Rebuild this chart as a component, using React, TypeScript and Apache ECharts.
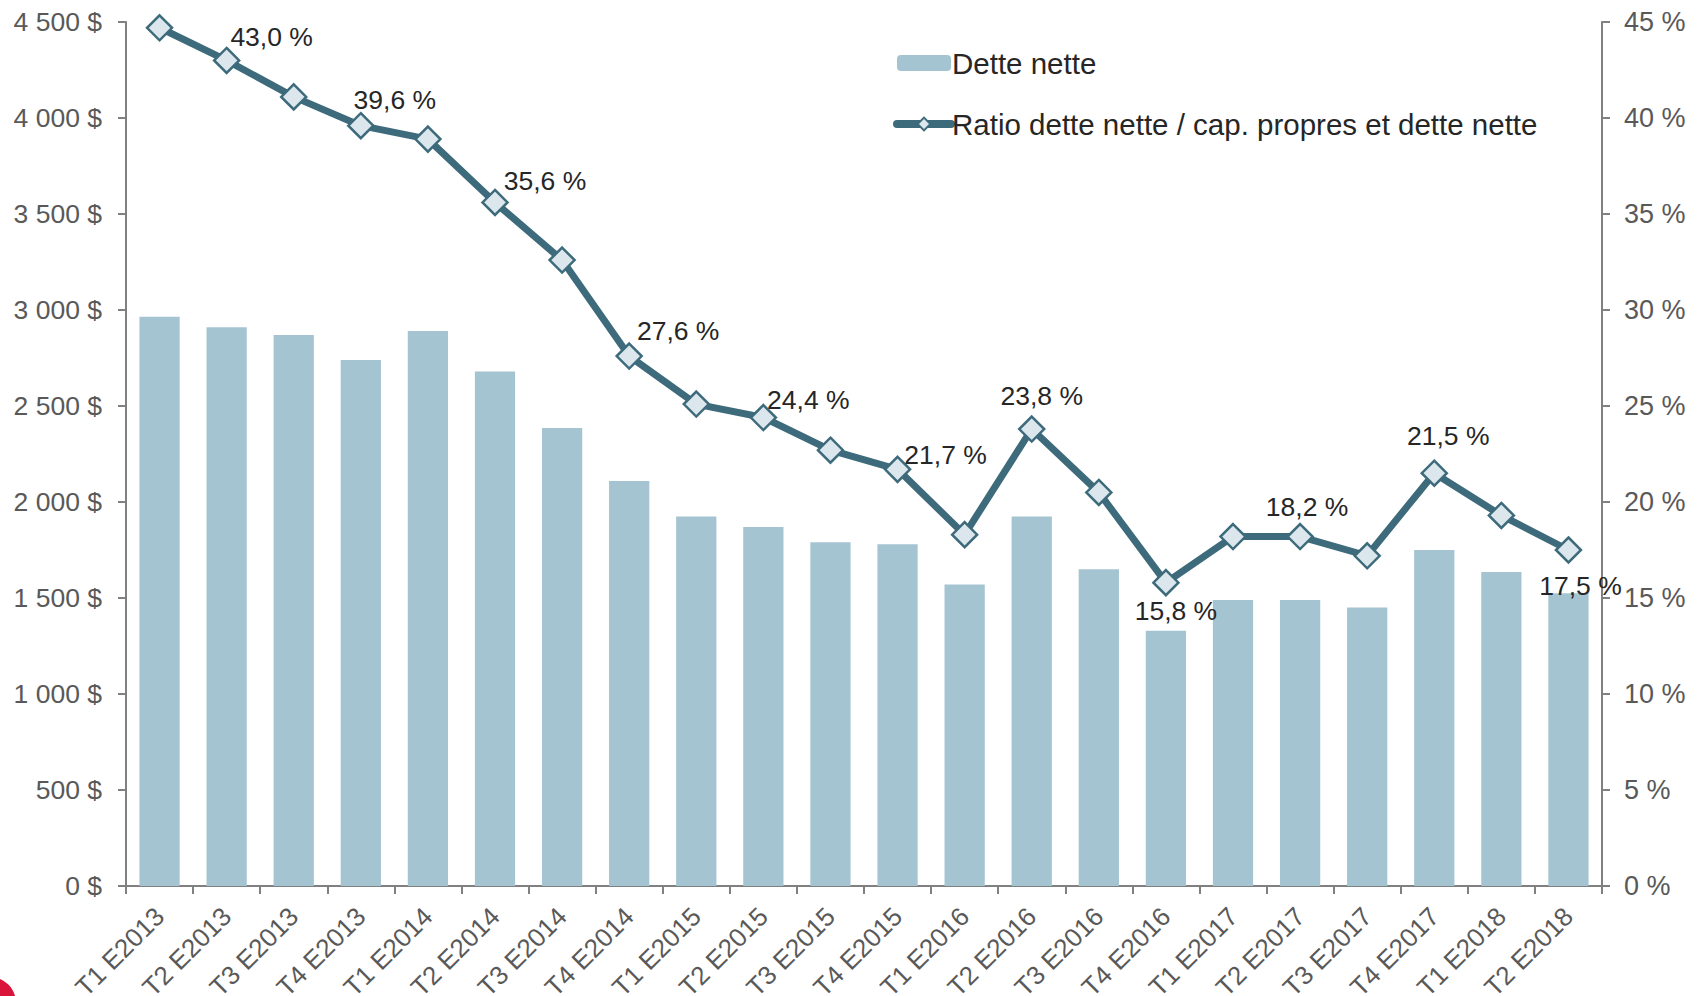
import React, { useEffect, useRef } from "react";
import * as echarts from "echarts";

const categories = [
  "T1 E2013", "T2 E2013", "T3 E2013", "T4 E2013",
  "T1 E2014", "T2 E2014", "T3 E2014", "T4 E2014",
  "T1 E2015", "T2 E2015", "T3 E2015", "T4 E2015",
  "T1 E2016", "T2 E2016", "T3 E2016", "T4 E2016",
  "T1 E2017", "T2 E2017", "T3 E2017", "T4 E2017",
  "T1 E2018", "T2 E2018",
];

const detteNette = [
  2965, 2910, 2870, 2740, 2890, 2680, 2385, 2110,
  1925, 1870, 1790, 1780, 1570, 1925, 1650, 1330,
  1490, 1490, 1450, 1750, 1635, 1525,
];

const ratio = [
  44.7, 43.0, 41.1, 39.6, 38.9, 35.6, 32.6, 27.6,
  25.1, 24.4, 22.7, 21.7, 18.3, 23.8, 20.5, 15.8,
  18.2, 18.2, 17.2, 21.5, 19.3, 17.5,
];

const leftTicks = { min: 0, max: 4500, interval: 500 };
const rightTicks = { min: 0, max: 45, interval: 5 };

const legendNames = ["Dette nette", "Ratio dette nette / cap. propres et dette nette"];

// label placement (style): index -> [dx, dy]
const labelOffsets: Record<number, [number, number]> = {
  1: [45, -23],
  3: [34, -26],
  5: [50, -21],
  7: [49, -25],
  9: [45, -18],
  11: [48, -14],
  13: [10, -33],
  15: [10, 28],
  17: [7, -30],
  19: [14, -37],
  21: [12, 36],
};

const FONT = "'Liberation Sans', Arial, sans-serif";
const BAR = "#a3c4d0";
const LINE = "#3d6b7c";
const MARK = "#dbe7ec";
const AXIS = "#808080";
const TICKTXT = "#595959";
const TXT = "#262626";

const fmtThousands = (v: number) =>
  String(v).replace(/\B(?=(\d{3})+(?!\d))/g, " ");

export default function App() {
  const ref = useRef<HTMLDivElement>(null);
  useEffect(() => {
    if (!ref.current) return;
    const chart = echarts.init(ref.current, null, { renderer: "svg" });
    const lineData = ratio.map((v, i) => {
      const off = labelOffsets[i];
      if (!off) return { value: v, label: { show: false } };
      return {
        value: v,
        label: {
          show: true,
          position: "inside",
          offset: off,
          formatter: (p: any) => p.value.toFixed(1).replace(".", ",") + " %",
        },
      };
    });
    chart.setOption({
      animation: false,
      backgroundColor: "#ffffff",
      textStyle: { fontFamily: FONT },
      grid: {
        left: 126,
        right: 98,
        top: 22,
        bottom: 110,
        containLabel: false,
        outerBoundsMode: "none",
      },
      legend: {
        show: true,
        orient: "vertical",
        left: 888,
        top: 43,
        itemWidth: 54,
        itemHeight: 16,
        itemGap: 31,
        selectedMode: false,
        textStyle: { fontSize: 29.5, color: TXT, fontFamily: FONT, padding: [0, 0, 0, -4] },
        data: [
          { name: legendNames[0] },
          { name: legendNames[1], lineStyle: { width: 8, color: LINE, cap: "round" } },
        ],
      },
      xAxis: {
        type: "category",
        data: categories,
        boundaryGap: true,
        axisLine: { show: true, lineStyle: { color: AXIS, width: 2 } },
        axisTick: { show: true, length: 8, lineStyle: { color: AXIS, width: 2 } },
        axisLabel: {
          rotate: 45,
          interval: 0,
          fontSize: 26,
          color: TICKTXT,
          fontFamily: FONT,
          margin: 26,
        },
      },
      yAxis: [
        {
          type: "value",
          position: "left",
          ...leftTicks,
          axisLine: { show: true, lineStyle: { color: AXIS, width: 2 } },
          axisTick: { show: true, length: 8, lineStyle: { color: AXIS, width: 2 } },
          splitLine: { show: false },
          axisLabel: {
            fontSize: 26.5,
            color: TICKTXT,
            fontFamily: FONT,
            margin: 24,
            formatter: (v: number) => fmtThousands(v) + " $",
          },
        },
        {
          type: "value",
          position: "right",
          ...rightTicks,
          axisLine: { show: true, lineStyle: { color: AXIS, width: 2 } },
          axisTick: { show: true, length: 8, lineStyle: { color: AXIS, width: 2 } },
          splitLine: { show: false },
          axisLabel: {
            fontSize: 27,
            color: TICKTXT,
            fontFamily: FONT,
            margin: 22,
            formatter: (v: number) => v + " %",
          },
        },
      ],
      series: [
        {
          name: legendNames[0],
          type: "bar",
          yAxisIndex: 0,
          data: detteNette,
          barCategoryGap: "40%",
          itemStyle: { color: BAR },
        },
        {
          name: legendNames[1],
          type: "line",
          yAxisIndex: 1,
          data: lineData,
          symbol: "diamond",
          symbolSize: 25,
          lineStyle: { color: LINE, width: 7 },
          itemStyle: { color: MARK, borderColor: LINE, borderWidth: 2.5 },
          label: { fontSize: 26.5, color: TXT, fontFamily: FONT },
          z: 3,
        },
      ],
      graphic: [
        {
          type: "circle",
          shape: { cx: -10, cy: 1003, r: 26 },
          style: { fill: "#d9163a" },
          silent: true,
        },
      ],
    });
    return () => chart.dispose();
  }, []);
  return (
    <div
      ref={ref}
      style={{ position: "fixed", left: 0, top: 0, width: 1700, height: 996 }}
    />
  );
}
